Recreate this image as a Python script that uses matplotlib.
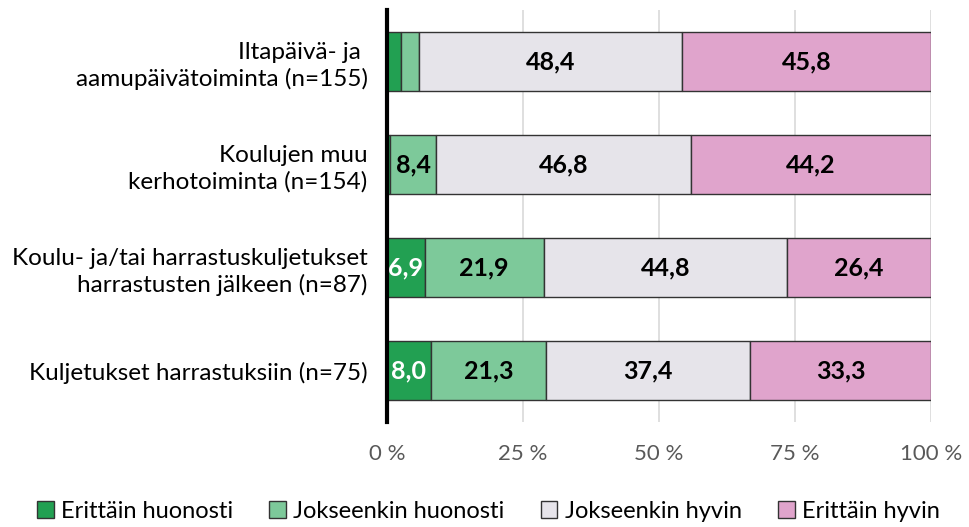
import numpy as np
import matplotlib
matplotlib.use("Agg")
import matplotlib.pyplot as plt

plt.rcParams['font.family'] = ['Lato', 'DejaVu Sans']

# data
categories = ["Iltapäivä- ja \naamupäivätoiminta (n=155)",
              "Koulujen muu\nkerhotoiminta (n=154)",
              "Koulu- ja/tai harrastuskuljetukset\nharrastusten jälkeen (n=87)",
              "Kuljetukset harrastuksiin (n=75)"]
series_names = ["Erittäin huonosti", "Jokseenkin huonosti", "Jokseenkin hyvin", "Erittäin hyvin"]
erittain_huonosti = [2.6, 0.6, 6.9, 8.0]
jokseenkin_huonosti = [3.2, 8.4, 21.9, 21.3]
jokseenkin_hyvin = [48.4, 46.8, 44.8, 37.4]
erittain_hyvin = [45.8, 44.2, 26.4, 33.3]
xticks = [0, 25, 50, 75, 100]

colors = ["#22a052", "#7dc99a", "#e6e4ea", "#e0a4cc"]
text_colors = ["white", "black", "black", "black"]
min_label = [5, 5, 5, 5]

fig = plt.figure(figsize=(9.69, 5.27), dpi=100)
ax = fig.add_axes([0.3994, 0.199, 0.5614, 0.782])

y = np.arange(len(categories))
left = np.zeros(len(categories))
all_series = [erittain_huonosti, jokseenkin_huonosti, jokseenkin_hyvin, erittain_hyvin]
for vals, name, col, tcol, mn in zip(all_series, series_names, colors, text_colors, min_label):
    vals = np.array(vals)
    ax.barh(y, vals, left=left, height=0.58, color=col, edgecolor="#333333",
            linewidth=1, label=name, zorder=3)
    for yi, v, l in zip(y, vals, left):
        if v >= mn:
            ax.text(l + v / 2, yi, f"{v:.1f}".replace(".", ","), ha="center", va="center",
                    color=tcol, fontsize=18, fontweight="bold", zorder=4)
    left += vals

ax.set_xlim(0, 100)
ax.set_ylim(3.5, -0.5)
ax.set_yticks(y)
ax.set_yticklabels(categories, fontsize=17.5, color="black", linespacing=1.25)
ax.set_xticks(xticks)
ax.set_xticklabels([f"{t} %" for t in xticks], fontsize=16, color="#595959")
ax.tick_params(axis="both", length=0)
ax.tick_params(axis="x", pad=16)
ax.tick_params(axis="y", pad=14)
ax.xaxis.grid(True, color="#d9d9d9", linewidth=1.2, zorder=0)
for s in ["top", "right", "bottom"]:
    ax.spines[s].set_visible(False)
ax.spines["left"].set_linewidth(3)
ax.spines["left"].set_zorder(5)

fig.legend(loc="lower center", bbox_to_anchor=(0.504, -0.03), ncol=4, frameon=False,
           fontsize=17, handlelength=0.7, handleheight=0.7, handletextpad=0.3,
           columnspacing=1.55)

fig.savefig("out.png", dpi=100)
